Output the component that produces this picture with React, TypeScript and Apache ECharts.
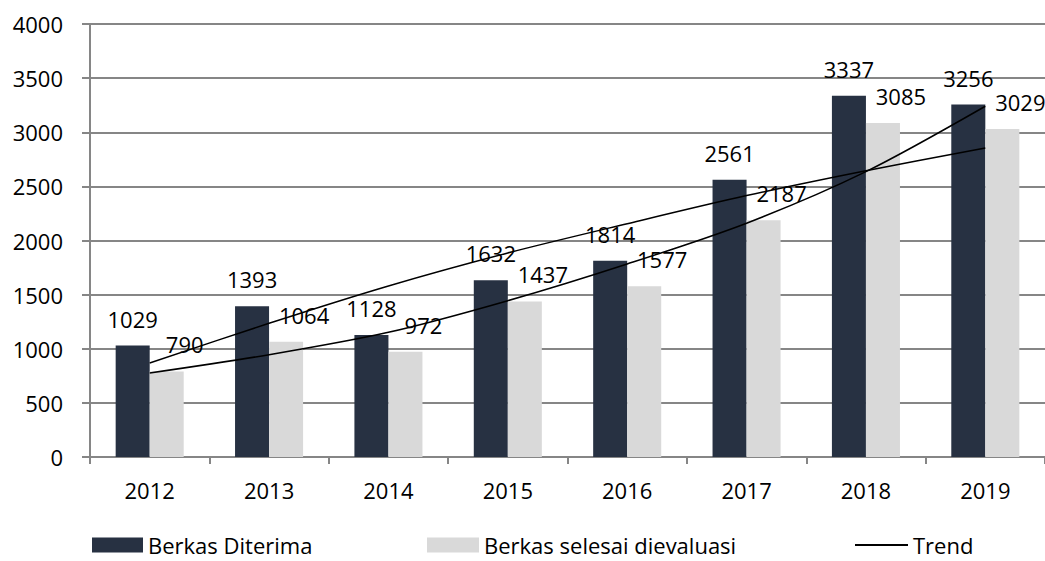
import React, { useEffect, useRef } from "react";
import * as echarts from "echarts";

const years = ["2012", "2013", "2014", "2015", "2016", "2017", "2018", "2019"];
const berkasDiterima = [1029, 1393, 1128, 1632, 1814, 2561, 3337, 3256];
const berkasSelesai = [790, 1064, 972, 1437, 1577, 2187, 3085, 3029];
// Trend lines
const trendDiterima = [868, 1235, 1580, 1885, 2155, 2415, 2645, 2854];
const trendSelesai = [776, 945, 1152, 1444, 1783, 2160, 2636, 3240];

const FONT = "Open Sans";
const GRID_COLOR = "#868686";
const DARK = "#273142";
const LIGHT = "#d9d9d9";

export default function App() {
  const ref = useRef<HTMLDivElement>(null);
  useEffect(() => {
    if (!ref.current) return;
    const chart = echarts.init(ref.current, null, { renderer: "svg" });
    const labelStyle = { fontFamily: FONT, fontSize: 22, color: "#000" };
    const legendText = { fontFamily: FONT, fontSize: 22, lineHeight: 22, color: "#000" };
    chart.setOption({
      animation: false,
      backgroundColor: "#fff",
      textStyle: { fontFamily: FONT },
      grid: { left: 90, right: 0, top: 24, bottom: 104, containLabel: false },
      legend: [
        {
          data: ["Berkas Diterima"],
          left: 92,
          top: 534,
          padding: 0,
          itemWidth: 51,
          itemHeight: 15,
          icon: "rect",
          textStyle: legendText,
        },
        {
          data: ["Berkas selesai dievaluasi"],
          left: 427,
          top: 534,
          padding: 0,
          itemWidth: 52,
          itemHeight: 15,
          icon: "rect",
          textStyle: legendText,
        },
        {
          data: ["Trend"],
          left: 855,
          top: 534,
          padding: 0,
          itemWidth: 53,
          itemHeight: 2,
          icon: "rect",
          textStyle: legendText,
        },
      ],
      xAxis: {
        type: "category",
        data: years,
        boundaryGap: true,
        axisLine: { show: true, lineStyle: { color: GRID_COLOR, width: 2 } },
        axisTick: { show: true, length: 7, lineStyle: { color: GRID_COLOR, width: 2 } },
        axisLabel: { ...labelStyle, margin: 22 },
      },
      yAxis: {
        type: "value",
        min: 0,
        max: 4000,
        interval: 500,
        axisLine: { show: true, lineStyle: { color: GRID_COLOR, width: 2 } },
        axisTick: { show: true, length: 8, lineStyle: { color: GRID_COLOR, width: 2 } },
        axisLabel: { ...labelStyle, margin: 27, formatter: (v: number) => String(v) },
        splitLine: { show: true, lineStyle: { color: GRID_COLOR, width: 2 } },
      },
      series: [
        {
          name: "Berkas Diterima",
          type: "bar",
          data: berkasDiterima,
          barGap: "0%",
          barCategoryGap: "43%",
          itemStyle: { color: DARK },
          label: { show: true, position: "top", distance: 16, ...labelStyle },
        },
        {
          name: "Berkas selesai dievaluasi",
          type: "bar",
          data: berkasSelesai,
          itemStyle: { color: LIGHT },
          label: { show: true, position: "top", distance: 16, offset: [18, 0], ...labelStyle },
        },
        {
          name: "Trend",
          type: "line",
          data: trendDiterima,
          smooth: 0.3,
          showSymbol: false,
          symbol: "none",
          color: "#000",
          lineStyle: { color: "#000", width: 1.5 },
          z: 5,
        },
        {
          name: "Trend",
          type: "line",
          data: trendSelesai,
          smooth: 0.3,
          showSymbol: false,
          symbol: "none",
          color: "#000",
          lineStyle: { color: "#000", width: 1.5 },
          z: 5,
        },
      ],
    });
    return () => chart.dispose();
  }, []);
  return (
    <div
      ref={ref}
      style={{ position: "fixed", left: 0, top: 0, width: 1045, height: 561 }}
    />
  );
}
